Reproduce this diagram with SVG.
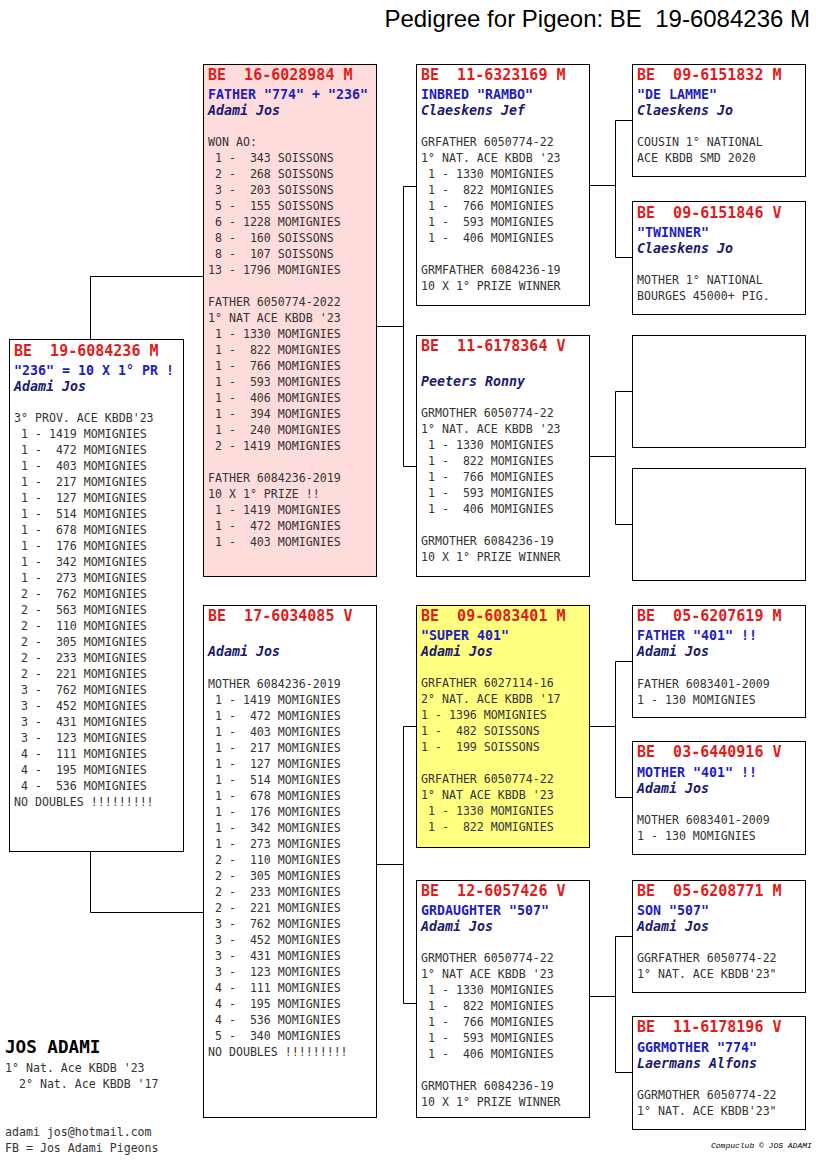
<svg xmlns="http://www.w3.org/2000/svg" width="816" height="1172" viewBox="0 0 816 1172" xml:space="preserve">
<style>
text{white-space:pre}
.box{fill:#fff;stroke:#000;stroke-width:1}
.pink{fill:#ffdcdc}
.yel{fill:#ffff80}
.r{font-family:"DejaVu Sans Mono",monospace;font-weight:bold;font-size:15px;fill:#e01c1c}
.b{font-family:"DejaVu Sans Mono",monospace;font-weight:bold;font-size:13.3px;fill:#1e1ec0}
.n{font-family:"DejaVu Sans Mono",monospace;font-weight:bold;font-style:italic;font-size:13.3px;fill:#1a1a70}
.t{font-family:"DejaVu Sans Mono",monospace;font-size:11.6px;fill:#333}
.c{fill:none;stroke:#000;stroke-width:1}
</style>
<rect width="816" height="1172" fill="#fff"/>
<text x="810" y="27" text-anchor="end" font-family="Liberation Sans, Arial, sans-serif" font-size="24" fill="#000">Pedigree for Pigeon: BE  19-6084236 M</text>

<g id="connectors" class="c">
<path d="M90.5,339 V276.5 H203"/>
<path d="M90.5,851 V912.5 H203"/>
<path d="M376,326.5 H403.5"/>
<path d="M416,186.5 H403.5 V466.5 H416"/>
<path d="M376,864.5 H403.5"/>
<path d="M416,726.5 H403.5 V1003.5 H416"/>
<path d="M589,185.5 H615.5"/>
<path d="M632,120.5 H615.5 V257.5 H632"/>
<path d="M589,456.5 H615.5"/>
<path d="M632,391.5 H615.5 V524.5 H632"/>
<path d="M589,726.5 H615.5"/>
<path d="M632,661.5 H615.5 V797.5 H632"/>
<path d="M589,996.5 H615.5"/>
<path d="M632,936.5 H615.5 V1072.5 H632"/>
</g>

<g id="subject">
<rect class="box" x="9.5" y="339.5" width="174" height="512"/>
<text class="r" x="14" y="356">BE  19-6084236 M</text>
<text class="b" x="14" y="375">"236" = 10 X 1° PR !</text>
<text class="n" x="14" y="391">Adami Jos</text>
<text class="t" x="14" y="422"><tspan x="14" dy="0">3° PROV. ACE KBDB'23</tspan><tspan x="14" dy="16"> 1 - 1419 MOMIGNIES</tspan><tspan x="14" dy="16"> 1 -  472 MOMIGNIES</tspan><tspan x="14" dy="16"> 1 -  403 MOMIGNIES</tspan><tspan x="14" dy="16"> 1 -  217 MOMIGNIES</tspan><tspan x="14" dy="16"> 1 -  127 MOMIGNIES</tspan><tspan x="14" dy="16"> 1 -  514 MOMIGNIES</tspan><tspan x="14" dy="16"> 1 -  678 MOMIGNIES</tspan><tspan x="14" dy="16"> 1 -  176 MOMIGNIES</tspan><tspan x="14" dy="16"> 1 -  342 MOMIGNIES</tspan><tspan x="14" dy="16"> 1 -  273 MOMIGNIES</tspan><tspan x="14" dy="16"> 2 -  762 MOMIGNIES</tspan><tspan x="14" dy="16"> 2 -  563 MOMIGNIES</tspan><tspan x="14" dy="16"> 2 -  110 MOMIGNIES</tspan><tspan x="14" dy="16"> 2 -  305 MOMIGNIES</tspan><tspan x="14" dy="16"> 2 -  233 MOMIGNIES</tspan><tspan x="14" dy="16"> 2 -  221 MOMIGNIES</tspan><tspan x="14" dy="16"> 3 -  762 MOMIGNIES</tspan><tspan x="14" dy="16"> 3 -  452 MOMIGNIES</tspan><tspan x="14" dy="16"> 3 -  431 MOMIGNIES</tspan><tspan x="14" dy="16"> 3 -  123 MOMIGNIES</tspan><tspan x="14" dy="16"> 4 -  111 MOMIGNIES</tspan><tspan x="14" dy="16"> 4 -  195 MOMIGNIES</tspan><tspan x="14" dy="16"> 4 -  536 MOMIGNIES</tspan><tspan x="14" dy="16">NO DOUBLES !!!!!!!!!</tspan></text>
</g>

<g id="father">
<rect class="box pink" x="203.5" y="64.5" width="173" height="512"/>
<text class="r" x="208" y="80">BE  16-6028984 M</text>
<text class="b" x="208" y="99">FATHER "774" + "236"</text>
<text class="n" x="208" y="115">Adami Jos</text>
<text class="t" x="208" y="146"><tspan x="208" dy="0">WON AO:</tspan><tspan x="208" dy="16"> 1 -  343 SOISSONS</tspan><tspan x="208" dy="16"> 2 -  268 SOISSONS</tspan><tspan x="208" dy="16"> 3 -  203 SOISSONS</tspan><tspan x="208" dy="16"> 5 -  155 SOISSONS</tspan><tspan x="208" dy="16"> 6 - 1228 MOMIGNIES</tspan><tspan x="208" dy="16"> 8 -  160 SOISSONS</tspan><tspan x="208" dy="16"> 8 -  107 SOISSONS</tspan><tspan x="208" dy="16">13 - 1796 MOMIGNIES</tspan><tspan x="208" dy="32">FATHER 6050774-2022</tspan><tspan x="208" dy="16">1° NAT ACE KBDB '23</tspan><tspan x="208" dy="16"> 1 - 1330 MOMIGNIES</tspan><tspan x="208" dy="16"> 1 -  822 MOMIGNIES</tspan><tspan x="208" dy="16"> 1 -  766 MOMIGNIES</tspan><tspan x="208" dy="16"> 1 -  593 MOMIGNIES</tspan><tspan x="208" dy="16"> 1 -  406 MOMIGNIES</tspan><tspan x="208" dy="16"> 1 -  394 MOMIGNIES</tspan><tspan x="208" dy="16"> 1 -  240 MOMIGNIES</tspan><tspan x="208" dy="16"> 2 - 1419 MOMIGNIES</tspan><tspan x="208" dy="32">FATHER 6084236-2019</tspan><tspan x="208" dy="16">10 X 1° PRIZE !!</tspan><tspan x="208" dy="16"> 1 - 1419 MOMIGNIES</tspan><tspan x="208" dy="16"> 1 -  472 MOMIGNIES</tspan><tspan x="208" dy="16"> 1 -  403 MOMIGNIES</tspan></text>
</g>

<g id="mother">
<rect class="box" x="203.5" y="605.5" width="173" height="512"/>
<text class="r" x="208" y="621">BE  17-6034085 V</text>
<text class="n" x="208" y="656">Adami Jos</text>
<text class="t" x="208" y="688"><tspan x="208" dy="0">MOTHER 6084236-2019</tspan><tspan x="208" dy="16"> 1 - 1419 MOMIGNIES</tspan><tspan x="208" dy="16"> 1 -  472 MOMIGNIES</tspan><tspan x="208" dy="16"> 1 -  403 MOMIGNIES</tspan><tspan x="208" dy="16"> 1 -  217 MOMIGNIES</tspan><tspan x="208" dy="16"> 1 -  127 MOMIGNIES</tspan><tspan x="208" dy="16"> 1 -  514 MOMIGNIES</tspan><tspan x="208" dy="16"> 1 -  678 MOMIGNIES</tspan><tspan x="208" dy="16"> 1 -  176 MOMIGNIES</tspan><tspan x="208" dy="16"> 1 -  342 MOMIGNIES</tspan><tspan x="208" dy="16"> 1 -  273 MOMIGNIES</tspan><tspan x="208" dy="16"> 2 -  110 MOMIGNIES</tspan><tspan x="208" dy="16"> 2 -  305 MOMIGNIES</tspan><tspan x="208" dy="16"> 2 -  233 MOMIGNIES</tspan><tspan x="208" dy="16"> 2 -  221 MOMIGNIES</tspan><tspan x="208" dy="16"> 3 -  762 MOMIGNIES</tspan><tspan x="208" dy="16"> 3 -  452 MOMIGNIES</tspan><tspan x="208" dy="16"> 3 -  431 MOMIGNIES</tspan><tspan x="208" dy="16"> 3 -  123 MOMIGNIES</tspan><tspan x="208" dy="16"> 4 -  111 MOMIGNIES</tspan><tspan x="208" dy="16"> 4 -  195 MOMIGNIES</tspan><tspan x="208" dy="16"> 4 -  536 MOMIGNIES</tspan><tspan x="208" dy="16"> 5 -  340 MOMIGNIES</tspan><tspan x="208" dy="16">NO DOUBLES !!!!!!!!!</tspan></text>
</g>

<g id="ff">
<rect class="box" x="416.5" y="64.5" width="173" height="241"/>
<text class="r" x="421" y="80">BE  11-6323169 M</text>
<text class="b" x="421" y="99">INBRED "RAMBO"</text>
<text class="n" x="421" y="115">Claeskens Jef</text>
<text class="t" x="421" y="146"><tspan x="421" dy="0">GRFATHER 6050774-22</tspan><tspan x="421" dy="16">1° NAT. ACE KBDB '23</tspan><tspan x="421" dy="16"> 1 - 1330 MOMIGNIES</tspan><tspan x="421" dy="16"> 1 -  822 MOMIGNIES</tspan><tspan x="421" dy="16"> 1 -  766 MOMIGNIES</tspan><tspan x="421" dy="16"> 1 -  593 MOMIGNIES</tspan><tspan x="421" dy="16"> 1 -  406 MOMIGNIES</tspan><tspan x="421" dy="32">GRMFATHER 6084236-19</tspan><tspan x="421" dy="16">10 X 1° PRIZE WINNER</tspan></text>
</g>

<g id="fm">
<rect class="box" x="416.5" y="335.5" width="173" height="241"/>
<text class="r" x="421" y="351">BE  11-6178364 V</text>
<text class="n" x="421" y="386">Peeters Ronny</text>
<text class="t" x="421" y="417"><tspan x="421" dy="0">GRMOTHER 6050774-22</tspan><tspan x="421" dy="16">1° NAT. ACE KBDB '23</tspan><tspan x="421" dy="16"> 1 - 1330 MOMIGNIES</tspan><tspan x="421" dy="16"> 1 -  822 MOMIGNIES</tspan><tspan x="421" dy="16"> 1 -  766 MOMIGNIES</tspan><tspan x="421" dy="16"> 1 -  593 MOMIGNIES</tspan><tspan x="421" dy="16"> 1 -  406 MOMIGNIES</tspan><tspan x="421" dy="32">GRMOTHER 6084236-19</tspan><tspan x="421" dy="16">10 X 1° PRIZE WINNER</tspan></text>
</g>

<g id="mf">
<rect class="box yel" x="416.5" y="605.5" width="173" height="242"/>
<text class="r" x="421" y="621">BE  09-6083401 M</text>
<text class="b" x="421" y="640">"SUPER 401"</text>
<text class="n" x="421" y="656">Adami Jos</text>
<text class="t" x="421" y="687"><tspan x="421" dy="0">GRFATHER 6027114-16</tspan><tspan x="421" dy="16">2° NAT. ACE KBDB '17</tspan><tspan x="421" dy="16">1 - 1396 MOMIGNIES</tspan><tspan x="421" dy="16">1 -  482 SOISSONS</tspan><tspan x="421" dy="16">1 -  199 SOISSONS</tspan><tspan x="421" dy="32">GRFATHER 6050774-22</tspan><tspan x="421" dy="16">1° NAT ACE KBDB '23</tspan><tspan x="421" dy="16"> 1 - 1330 MOMIGNIES</tspan><tspan x="421" dy="16"> 1 -  822 MOMIGNIES</tspan></text>
</g>

<g id="mm">
<rect class="box" x="416.5" y="880.5" width="173" height="237"/>
<text class="r" x="421" y="896">BE  12-6057426 V</text>
<text class="b" x="421" y="915">GRDAUGHTER "507"</text>
<text class="n" x="421" y="931">Adami Jos</text>
<text class="t" x="421" y="962"><tspan x="421" dy="0">GRMOTHER 6050774-22</tspan><tspan x="421" dy="16">1° NAT ACE KBDB '23</tspan><tspan x="421" dy="16"> 1 - 1330 MOMIGNIES</tspan><tspan x="421" dy="16"> 1 -  822 MOMIGNIES</tspan><tspan x="421" dy="16"> 1 -  766 MOMIGNIES</tspan><tspan x="421" dy="16"> 1 -  593 MOMIGNIES</tspan><tspan x="421" dy="16"> 1 -  406 MOMIGNIES</tspan><tspan x="421" dy="32">GRMOTHER 6084236-19</tspan><tspan x="421" dy="16">10 X 1° PRIZE WINNER</tspan></text>
</g>

<g id="fff">
<rect class="box" x="632.5" y="64.5" width="173" height="112"/>
<text class="r" x="637" y="80">BE  09-6151832 M</text>
<text class="b" x="637" y="99">"DE LAMME"</text>
<text class="n" x="637" y="115">Claeskens Jo</text>
<text class="t" x="637" y="146"><tspan x="637" dy="0">COUSIN 1° NATIONAL</tspan><tspan x="637" dy="16">ACE KBDB SMD 2020</tspan></text>
</g>

<g id="ffm">
<rect class="box" x="632.5" y="201.5" width="173" height="113"/>
<text class="r" x="637" y="218">BE  09-6151846 V</text>
<text class="b" x="637" y="237">"TWINNER"</text>
<text class="n" x="637" y="253">Claeskens Jo</text>
<text class="t" x="637" y="284"><tspan x="637" dy="0">MOTHER 1° NATIONAL</tspan><tspan x="637" dy="16">BOURGES 45000+ PIG.</tspan></text>
</g>

<g id="fmf">
<rect class="box" x="632.5" y="335.5" width="173" height="112"/>
</g>

<g id="fmm">
<rect class="box" x="632.5" y="468.5" width="173" height="112"/>
</g>

<g id="mff">
<rect class="box" x="632.5" y="605.5" width="173" height="112"/>
<text class="r" x="637" y="621">BE  05-6207619 M</text>
<text class="b" x="637" y="640">FATHER "401" !!</text>
<text class="n" x="637" y="656">Adami Jos</text>
<text class="t" x="637" y="688"><tspan x="637" dy="0">FATHER 6083401-2009</tspan><tspan x="637" dy="16">1 - 130 MOMIGNIES</tspan></text>
</g>

<g id="mfm">
<rect class="box" x="632.5" y="741.5" width="173" height="113"/>
<text class="r" x="637" y="757">BE  03-6440916 V</text>
<text class="b" x="637" y="777">MOTHER "401" !!</text>
<text class="n" x="637" y="793">Adami Jos</text>
<text class="t" x="637" y="824"><tspan x="637" dy="0">MOTHER 6083401-2009</tspan><tspan x="637" dy="16">1 - 130 MOMIGNIES</tspan></text>
</g>

<g id="mmf">
<rect class="box" x="632.5" y="880.5" width="173" height="112"/>
<text class="r" x="637" y="896">BE  05-6208771 M</text>
<text class="b" x="637" y="915">SON "507"</text>
<text class="n" x="637" y="931">Adami Jos</text>
<text class="t" x="637" y="962"><tspan x="637" dy="0">GGRFATHER 6050774-22</tspan><tspan x="637" dy="16">1° NAT. ACE KBDB'23"</tspan></text>
</g>

<g id="mmm">
<rect class="box" x="632.5" y="1016.5" width="173" height="113"/>
<text class="r" x="637" y="1032">BE  11-6178196 V</text>
<text class="b" x="637" y="1052">GGRMOTHER "774"</text>
<text class="n" x="637" y="1068">Laermans Alfons</text>
<text class="t" x="637" y="1099"><tspan x="637" dy="0">GGRMOTHER 6050774-22</tspan><tspan x="637" dy="16">1° NAT. ACE KBDB'23"</tspan></text>
</g>

<g id="breeder">
<text x="5" y="1053" font-family="DejaVu Sans Mono, monospace" font-weight="bold" font-size="17.6" fill="#000">JOS ADAMI</text>
<text class="t" x="5" y="1072" fill="#222"><tspan x="5" dy="0">1° Nat. Ace KBDB '23</tspan><tspan x="5" dy="16">  2° Nat. Ace KBDB '17</tspan></text>
<text class="t" x="5" y="1136"><tspan x="5" dy="0">adami jos@hotmail.com</tspan><tspan x="5" dy="16">FB = Jos Adami Pigeons</tspan></text>
</g>
<text x="711" y="1148" font-family="Liberation Mono, monospace" font-style="italic" font-size="8" fill="#000">Compuclub © JOS ADAMI</text>
</svg>
